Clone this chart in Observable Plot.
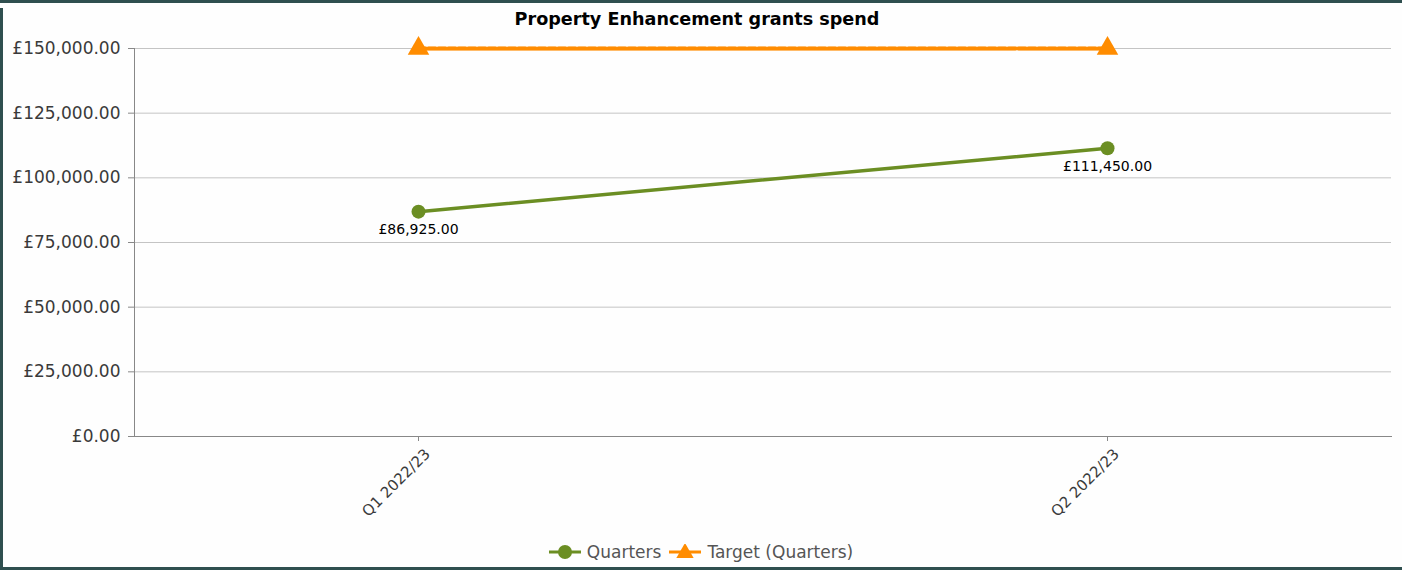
<!DOCTYPE html>
<html>
<head>
<meta charset="utf-8">
<script src="https://cdn.jsdelivr.net/npm/d3@7"></script>
<script src="https://cdn.jsdelivr.net/npm/@observablehq/plot@0.6"></script>
<style>
  html, body { margin: 0; padding: 0; background: #fff; }
  #wrap { position: relative; width: 1402px; height: 570px; overflow: hidden; background: #fefefe; font-family: "DejaVu Sans", sans-serif; }
  #title { position: absolute; left: 0; top: 9px; width: 1394px; text-align: center; font-weight: bold; font-size: 17.6px; color: #000; }
  #chart { position: absolute; left: 0; top: 30px; }
  #legend { position: absolute; left: 0; top: 542px; width: 1402px; display: flex; justify-content: center; align-items: center; font-size: 17px; color: #555; }
  #legend .item { display: flex; align-items: center; margin: 0 4px; }
  #legend svg { margin-right: 6px; }
  .bt { position: absolute; left: 0; top: 0; width: 1402px; height: 3px; background: #2f4f4f; }
  .bl { position: absolute; left: 0; top: 8px; width: 3px; height: 562px; background: #2f4f4f; }
  .bb { position: absolute; left: 0; top: 567px; width: 1402px; height: 3px; background: #2f4f4f; }
</style>
</head>
<body>
<div id="wrap">
  <div id="title"></div>
  <div id="chart"></div>
  <div id="legend"></div>
  <div class="bt"></div><div class="bl"></div><div class="bb"></div>
</div>
<script>
const titleText = "Property Enhancement grants spend";
const quarters = ["Q1 2022/23", "Q2 2022/23"];
const actualValues = [86925, 111450];
const targetValues = [150000, 150000];
const yTicks = [0, 25000, 50000, 75000, 100000, 125000, 150000];
const seriesNames = ["Quarters", "Target (Quarters)"];
const seriesColors = ["#6b8e23", "#ff8c00"];

const money = v => "£" + d3.format(",.2f")(v);
const actual = quarters.map((q, i) => ({q, v: actualValues[i]}));
const target = quarters.map((q, i) => ({q, v: targetValues[i]}));

document.getElementById("title").textContent = titleText;

const chart = Plot.plot({
  width: 1402,
  height: 500,
  marginLeft: 134,
  marginRight: 11,
  marginTop: 18,
  marginBottom: 94,
  style: { fontFamily: "DejaVu Sans, sans-serif", fontSize: "17px", color: "#3a3a3a", background: "transparent", overflow: "visible" },
  x: { type: "point", domain: quarters, padding: 0.412, label: null },
  y: { domain: [0, 150000], label: null },
  marks: [
    Plot.gridY(yTicks, { stroke: "#c4c4c4", strokeOpacity: 1 }),
    Plot.frame({ anchor: "left", stroke: "#888" }),
    Plot.frame({ anchor: "bottom", stroke: "#888" }),
    Plot.axisY({ ticks: yTicks, tickFormat: money, tickSize: 6, tickPadding: 8, stroke: "#888", fontSize: 17, label: null }),
    Plot.axisX({ tickSize: 5, tickFormat: () => "", stroke: "#888", label: null }),
    Plot.axisX({ tickRotate: -45, tickSize: 0, tickPadding: 9, fontSize: 15, dx: 9, dy: 6, label: null }),
    Plot.line(target, { x: "q", y: "v", stroke: seriesColors[1], strokeWidth: 4, strokeOpacity: 0.35 }),
    Plot.line(target, { x: "q", y: "v", stroke: seriesColors[1], strokeWidth: 4, strokeDasharray: "7,3" }),
    Plot.dot(target, { x: "q", y: "v", symbol: "triangle", fill: seriesColors[1], r: 8, stroke: "none" }),
    Plot.line(actual, { x: "q", y: "v", stroke: seriesColors[0], strokeWidth: 3.5 }),
    Plot.dot(actual, { x: "q", y: "v", fill: seriesColors[0], r: 7, stroke: "none" }),
    Plot.text(actual, { x: "q", y: "v", text: d => money(d.v), dy: 18, fill: "#000", fontSize: 14 })
  ]
});
document.getElementById("chart").appendChild(chart);

// legend
const legend = document.getElementById("legend");
seriesNames.forEach((name, i) => {
  const item = document.createElement("div");
  item.className = "item";
  const sw = d3.create("svg").attr("width", 32).attr("height", 16);
  sw.append("line").attr("x1", 0).attr("x2", 32).attr("y1", 8).attr("y2", 8).attr("stroke", seriesColors[i]).attr("stroke-width", 3);
  if (i === 0) sw.append("circle").attr("cx", 16).attr("cy", 8).attr("r", 7).attr("fill", seriesColors[i]);
  else sw.append("path").attr("d", d3.symbol(d3.symbolTriangle, 130)()).attr("transform", "translate(16,9)").attr("fill", seriesColors[i]);
  item.appendChild(sw.node());
  const t = document.createElement("span");
  t.textContent = name;
  item.appendChild(t);
  legend.appendChild(item);
});
</script>
</body>
</html>
